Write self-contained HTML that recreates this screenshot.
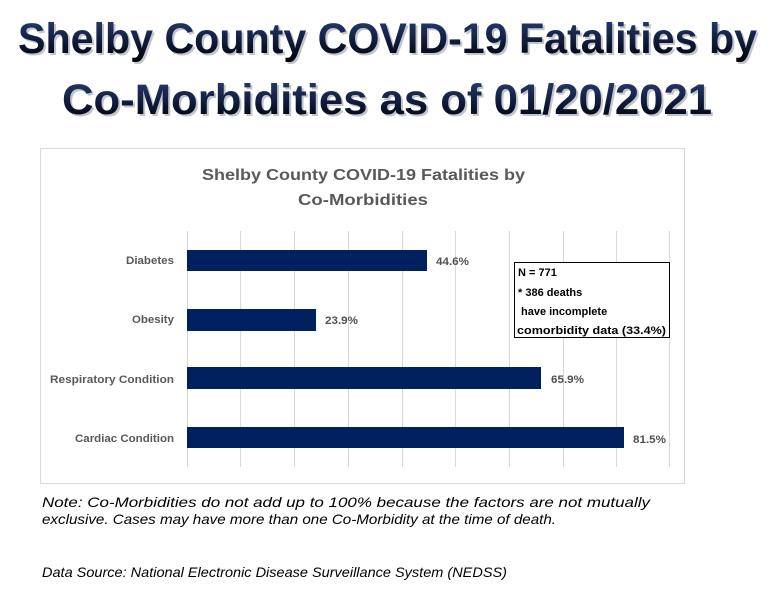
<!DOCTYPE html>
<html><head><meta charset="utf-8">
<style>
html,body{margin:0;padding:0;background:#fff;}
svg{display:block;}
</style></head>
<body>
<svg width="780" height="592" viewBox="0 0 780 592" xmlns="http://www.w3.org/2000/svg">
<defs>
<linearGradient id="tg" x1="0" y1="0" x2="0" y2="1">
<stop offset="0" stop-color="#2a4275"/>
<stop offset="0.6" stop-color="#0d1835"/>
<stop offset="1" stop-color="#000000"/>
</linearGradient>
</defs>
<rect width="780" height="592" fill="#fff"/>
<!-- main title -->
<g font-family="Liberation Sans, sans-serif" font-weight="bold" font-size="43">
<text x="20" y="55" textLength="739" lengthAdjust="spacingAndGlyphs" fill="#9aa0aa" opacity="0.6">Shelby County COVID-19 Fatalities by</text>
<text x="64" y="116" textLength="650" lengthAdjust="spacingAndGlyphs" fill="#9aa0aa" opacity="0.6">Co-Morbidities as of 01/20/2021</text>
<text x="18" y="53" textLength="739" lengthAdjust="spacingAndGlyphs" fill="url(#tg)">Shelby County COVID-19 Fatalities by</text>
<text x="62" y="114" textLength="650" lengthAdjust="spacingAndGlyphs" fill="url(#tg)">Co-Morbidities as of 01/20/2021</text>
</g>
<!-- chart frame -->
<rect x="40.5" y="148.5" width="644" height="335" fill="#fff" stroke="#d9d9d9" stroke-width="1"/>
<!-- chart title -->
<g font-family="Liberation Sans, sans-serif" font-size="16" font-weight="bold" fill="#595959">
<text x="202" y="180" textLength="323" lengthAdjust="spacingAndGlyphs">Shelby County COVID-19 Fatalities by</text>
<text x="298" y="205" textLength="130" lengthAdjust="spacingAndGlyphs">Co-Morbidities</text>
</g>
<!-- gridlines -->
<g stroke="#d9d9d9" stroke-width="1">
<line x1="240.5" y1="231" x2="240.5" y2="467"/>
<line x1="294.5" y1="231" x2="294.5" y2="467"/>
<line x1="348.5" y1="231" x2="348.5" y2="467"/>
<line x1="402.5" y1="231" x2="402.5" y2="467"/>
<line x1="455.5" y1="231" x2="455.5" y2="467"/>
<line x1="509.5" y1="231" x2="509.5" y2="467"/>
<line x1="563.5" y1="231" x2="563.5" y2="467"/>
<line x1="616.5" y1="231" x2="616.5" y2="467"/>
<line x1="669.5" y1="231" x2="669.5" y2="467"/>
<line x1="187.5" y1="231" x2="187.5" y2="467"/>
</g>
<!-- bars -->
<g fill="#002060">
<rect x="187" y="250" width="240" height="21"/>
<rect x="187" y="309" width="129" height="22"/>
<rect x="187" y="367" width="354" height="22"/>
<rect x="187" y="427" width="437" height="21"/>
</g>
<!-- category labels -->
<g font-family="Liberation Sans, sans-serif" font-size="11" font-weight="bold" fill="#595959" text-anchor="end">
<text x="174" y="264" textLength="48" lengthAdjust="spacingAndGlyphs">Diabetes</text>
<text x="174" y="323" textLength="42" lengthAdjust="spacingAndGlyphs">Obesity</text>
<text x="174" y="383" textLength="124" lengthAdjust="spacingAndGlyphs">Respiratory Condition</text>
<text x="174" y="442" textLength="99" lengthAdjust="spacingAndGlyphs">Cardiac Condition</text>
</g>
<!-- value labels -->
<g font-family="Liberation Sans, sans-serif" font-size="11" font-weight="bold" fill="#505050">
<text x="436" y="265" textLength="33" lengthAdjust="spacingAndGlyphs">44.6%</text>
<text x="325" y="324" textLength="33" lengthAdjust="spacingAndGlyphs">23.9%</text>
<text x="551" y="383" textLength="33" lengthAdjust="spacingAndGlyphs">65.9%</text>
<text x="633" y="443" textLength="33" lengthAdjust="spacingAndGlyphs">81.5%</text>
</g>
<!-- annotation box -->
<rect x="514.5" y="262.5" width="155" height="75" fill="#fff" stroke="#000" stroke-width="1"/>
<g font-family="Liberation Sans, sans-serif" font-size="11" font-weight="bold" fill="#000">
<text x="518" y="276">N = 771</text>
<text x="518" y="296">* 386 deaths</text>
<text x="521" y="315">have incomplete</text>
<text x="517" y="334" textLength="149" lengthAdjust="spacingAndGlyphs">comorbidity data (33.4%)</text>
</g>
<!-- notes -->
<g font-family="Liberation Sans, sans-serif" font-size="14" font-style="italic" fill="#000">
<text x="42" y="507" textLength="608" lengthAdjust="spacingAndGlyphs">Note: Co-Morbidities do not add up to 100%  because the factors are not mutually</text>
<text x="42" y="524" textLength="514" lengthAdjust="spacingAndGlyphs">exclusive. Cases may have more than one Co-Morbidity at the time of death.</text>
<text x="42" y="577" textLength="465" lengthAdjust="spacingAndGlyphs">Data Source: National Electronic Disease Surveillance System (NEDSS)</text>
</g>
</svg>
</body></html>
